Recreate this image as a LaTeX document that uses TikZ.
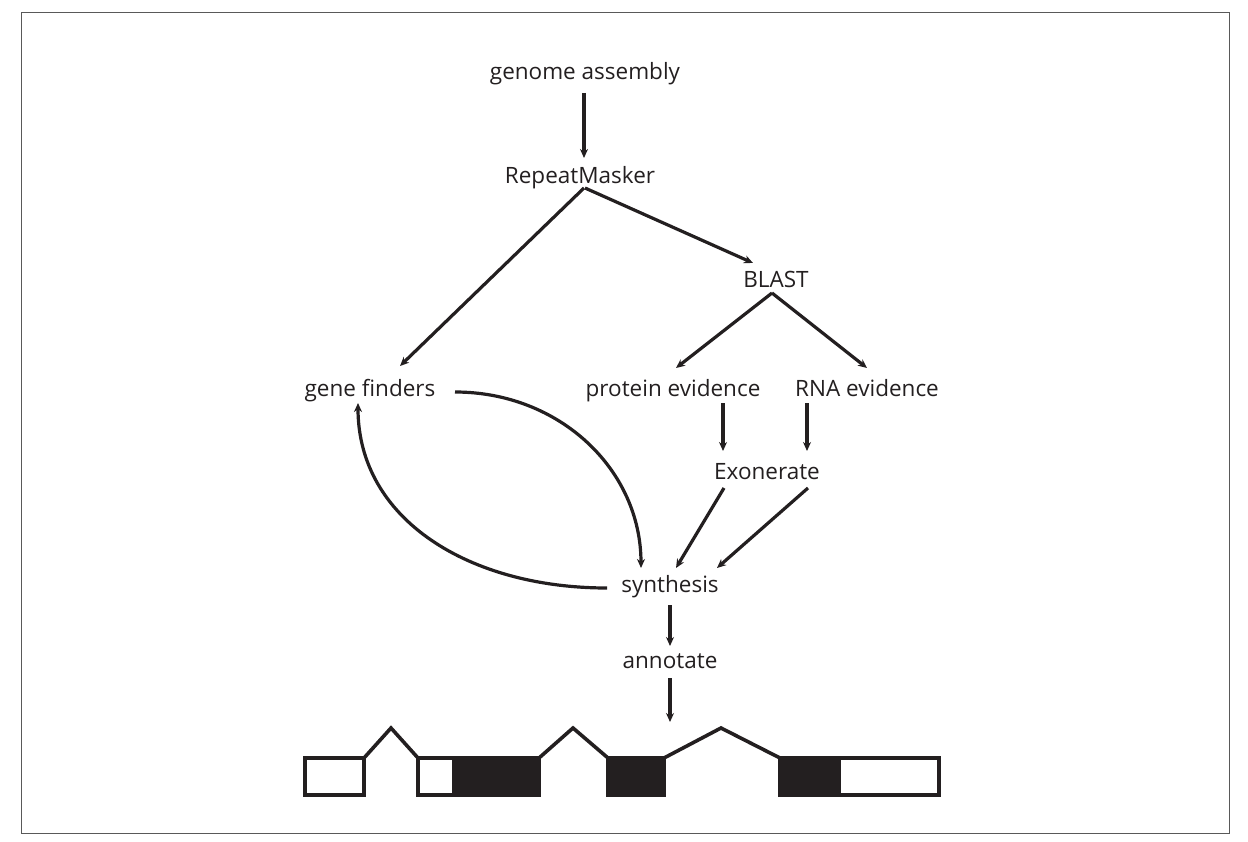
\documentclass[tikz,border=0pt]{standalone}
\usepackage{fontspec}
\setmainfont{Open Sans}
\usetikzlibrary{arrows.meta}
\definecolor{ink}{HTML}{231F20}
\tikzset{
  lbl/.style={font=\fontsize{22.5}{26}\selectfont, text=ink, inner sep=0pt, text height=16pt, text depth=5pt},
  conn/.style={draw=ink, line width=3.2pt, -{Stealth[length=9pt,width=8pt]}},
  exonw/.style={draw=ink, line width=3.6pt, fill=white},
  exonb/.style={draw=ink, line width=3.6pt, fill=ink},
  intron/.style={draw=ink, line width=3.6pt, line join=miter},
}
\begin{document}
\begin{tikzpicture}[x=1pt,y=-1pt]
\useasboundingbox (0,0) rectangle (1248,842);
\draw[gray!70!black, line width=1pt] (21,13) rectangle (1229,833);

\node[lbl] (ga)  at (585,74)  {genome assembly};
\node[lbl] (rm)  at (580,178) {RepeatMasker};
\node[lbl] (bl)  at (776,282) {BLAST};
\node[lbl] (gf)  at (370,391) {gene finders};
\node[lbl] (pe)  at (673,391) {protein evidence};
\node[lbl] (rna) at (867,391) {RNA evidence};
\node[lbl] (ex)  at (767,474) {Exonerate};
\node[lbl] (syn) at (670,587) {synthesis};
\node[lbl] (an)  at (670,663) {annotate};
\coordinate (gene) at (670,722);

\draw[conn] ([shift={(-1,19)}]ga.center) -- ([shift={(4,-20)}]rm.center);
\draw[conn] ([shift={(4,10)}]rm.center) -- ([shift={(30,-25)}]gf.center);
\draw[conn] ([shift={(5,10)}]rm.center) -- ([shift={(-23,-19)}]bl.center);
\draw[conn] ([shift={(-4,11)}]bl.center) -- ([shift={(3,-23)}]pe.center);
\draw[conn] ([shift={(-4,11)}]bl.center) -- ([shift={(0,-23)}]rna.center);
\draw[conn] ([shift={(50,12)}]pe.center) -- ([shift={(-44,-23)}]ex.center);
\draw[conn] ([shift={(-60,12)}]rna.center) -- ([shift={(40,-23)}]ex.center);
\draw[conn] ([shift={(-43,14)}]ex.center) -- ([shift={(6,-19)}]syn.center);
\draw[conn] ([shift={(41,14)}]ex.center) -- ([shift={(47,-19)}]syn.center);
\draw[conn] ([shift={(85,1)}]gf.center) .. controls (560,392) and (641,470) .. ([shift={(-29,-19)}]syn.center);
\draw[conn] ([shift={(-63,1)}]syn.center) .. controls (470,588) and (358,520) .. ([shift={(-12,12)}]gf.center);
\draw[conn] ([shift={(0,18)}]syn.center) -- ([shift={(0,-17)}]an.center);
\draw[conn] ([shift={(0,15)}]an.center) -- (gene);

% gene model
\draw[intron] (364,758) -- (391,728) -- (418,758);
\draw[intron] (539,758) -- (573,728) -- (608,758);
\draw[intron] (664,758) -- (721,728) -- (780,758);
\draw[exonw] (305,758) rectangle (364,795);
\draw[exonw] (418,758) rectangle (454,795);
\draw[exonb] (454,758) rectangle (539,795);
\draw[exonb] (608,758) rectangle (664,795);
\draw[exonb] (780,758) rectangle (839,795);
\draw[exonw] (839,758) rectangle (939,795);
\end{tikzpicture}
\end{document}
